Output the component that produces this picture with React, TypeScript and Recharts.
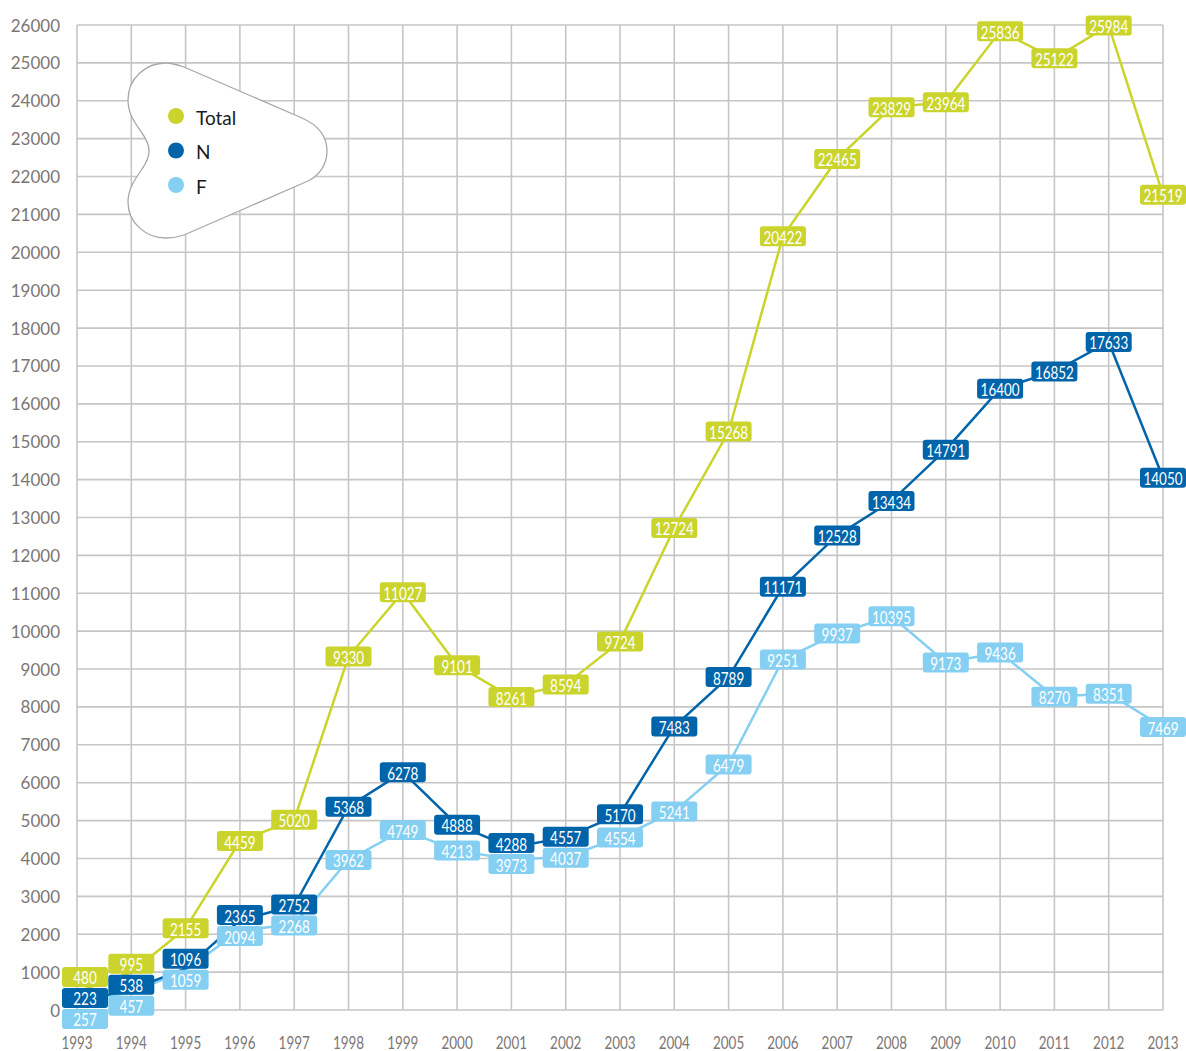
import { LineChart, Line, XAxis, YAxis, CartesianGrid, LabelList, Legend } from "recharts";

const YEARS = [1993, 1994, 1995, 1996, 1997, 1998, 1999, 2000, 2001, 2002, 2003, 2004, 2005, 2006, 2007, 2008, 2009, 2010, 2011, 2012, 2013];
const TOTAL = [480, 995, 2155, 4459, 5020, 9330, 11027, 9101, 8261, 8594, 9724, 12724, 15268, 20422, 22465, 23829, 23964, 25836, 25122, 25984, 21519];
const N_VALUES = [223, 538, 1096, 2365, 2752, 5368, 6278, 4888, 4288, 4557, 5170, 7483, 8789, 11171, 12528, 13434, 14791, 16400, 16852, 17633, 14050];
const F_VALUES = [257, 457, 1059, 2094, 2268, 3962, 4749, 4213, 3973, 4037, 4554, 5241, 6479, 9251, 9937, 10395, 9173, 9436, 8270, 8351, 7469];
const Y_TICKS = [0, 1000, 2000, 3000, 4000, 5000, 6000, 7000, 8000, 9000, 10000, 11000, 12000, 13000, 14000, 15000, 16000, 17000, 18000, 19000, 20000, 21000, 22000, 23000, 24000, 25000, 26000];
// the vertical grid has its own 21 columns, not one per year
const GRID_COLUMNS = [0, 1, 2, 3, 4, 5, 6, 7, 8, 9, 10, 11, 12, 13, 14, 15, 16, 17, 18, 19, 20, 21];

const SERIES = [
  { key: "total", name: "Total", color: "#cad42c", values: TOTAL },
  { key: "n", name: "N", color: "#0064aa", values: N_VALUES },
  { key: "f", name: "F", color: "#85cff2", values: F_VALUES },
];

const data = YEARS.map((year, i) => ({ year, total: TOTAL[i], n: N_VALUES[i], f: F_VALUES[i] }));

const W = 1186;
const H = 1051;
const MARGIN = { top: 25, right: 23, bottom: 0, left: 0 };
const X_AXIS_H = 41;
const Y_AXIS_W = 77;
const Y_MAX = 26000;
const PLOT_H = H - MARGIN.top - X_AXIS_H;
const PX_PER_UNIT = PLOT_H / Y_MAX;

const BOX_W = 46;
const BOX_H = 20;
const GAP = 21;
const FONT = "Lato, 'Open Sans', sans-serif";
const AXIS_COLOR = "#7b7674";

// push the three labels of one year apart so the boxes do not overlap
function labelShift(seriesIndex: number, index: number) {
  const raw = SERIES.map((s) => -s.values[index] * PX_PER_UNIT);
  const ys = raw.slice();
  for (let k = 0; k < 60; k++) {
    for (let a = 0; a < ys.length - 1; a++) {
      const d = ys[a + 1] - ys[a];
      if (d < GAP) {
        const s = (GAP - d) / 2;
        ys[a] -= s;
        ys[a + 1] += s;
      }
    }
  }
  return ys[seriesIndex] - raw[seriesIndex];
}

function makeLabel(seriesIndex: number) {
  const color = SERIES[seriesIndex].color;
  return (props: any) => {
    const { x, y, value, index } = props;
    if (x == null || y == null) return null;
    const cx = Math.max(x, 62 + BOX_W / 2);
    const cy = y + labelShift(seriesIndex, index);
    const txt = String(value);
    return (
      <g>
        <rect x={cx - BOX_W / 2} y={cy - BOX_H / 2} width={BOX_W} height={BOX_H} rx={3} fill={color} />
        <text
          x={cx}
          y={cy + 1}
          textAnchor="middle"
          dominantBaseline="central"
          fill="#fff"
          fontSize={17.5}
          fontFamily={FONT}
          textLength={txt.length * 7.8}
          lengthAdjust="spacingAndGlyphs"
        >
          {txt}
        </text>
      </g>
    );
  };
}

function XTick(props: any) {
  const { x, y, payload } = props;
  const txt = String(payload.value);
  return (
    <text
      x={x}
      y={y + 32}
      textAnchor="middle"
      dominantBaseline="central"
      fill={AXIS_COLOR}
      fontSize={17}
      fontFamily={FONT}
      textLength={txt.length * 7.8}
      lengthAdjust="spacingAndGlyphs"
    >
      {txt}
    </text>
  );
}

function YTick(props: any) {
  const { x, y, payload } = props;
  return (
    <text x={x} y={y} textAnchor="end" dominantBaseline="central" fill={AXIS_COLOR} fontSize={17} fontFamily={FONT}>
      {payload.value}
    </text>
  );
}

const LEGEND_SHAPE =
  "M1,38 C1,16 19,1 39,1 C45,1 51,3 57,5 L175,56 C193,64 200,76 200,89 C200,102 193,113 181,119 L57,173 C51,175 45,176 39,176 C19,176 1,161 1,140 C1,126 9,116 15,107 C20,100 22,95 22,89 C22,83 20,78 15,71 C9,62 1,53 1,38 Z";

function LegendShape() {
  return (
    <svg width={202} height={178} style={{ display: "block" }}>
      <path d={LEGEND_SHAPE} fill="#fff" stroke="#a8a8a8" strokeWidth={1.3} />
      {SERIES.map((s, i) => (
        <g key={s.key}>
          <circle cx={49} cy={54 + i * 34.5} r={8} fill={s.color} />
          <text x={69} y={55 + i * 34.5} dominantBaseline="central" fontSize={19} fontFamily={FONT} fill="#1b1b1b">
            {s.name}
          </text>
        </g>
      ))}
    </svg>
  );
}

export default function App() {
  // F underneath, Total on top
  const drawOrder = [2, 1, 0];
  return (
    <div style={{ width: W, height: H, background: "#fff" }}>
      <style>{"body{margin:0}"}</style>
      <LineChart width={W} height={H} data={data} margin={MARGIN}>
        <XAxis xAxisId="grid" type="number" domain={[0, 21]} ticks={GRID_COLUMNS} hide />
        <CartesianGrid xAxisId="grid" stroke="#c6c6c6" strokeWidth={1.6} />
        <XAxis
          dataKey="year"
          type="number"
          domain={[1993, 2013]}
          ticks={YEARS}
          interval={0}
          height={X_AXIS_H}
          axisLine={false}
          tickLine={false}
          tickSize={0}
          tickMargin={0}
          tick={<XTick />}
        />
        <YAxis
          domain={[0, Y_MAX]}
          ticks={Y_TICKS}
          interval={0}
          width={Y_AXIS_W}
          axisLine={false}
          tickLine={false}
          tickSize={0}
          tickMargin={17}
          tick={<YTick />}
        />
        <Legend
          layout="horizontal"
          verticalAlign="middle"
          align="center"
          wrapperStyle={{ left: 127, top: 62, width: 202, height: 178 }}
          content={() => <LegendShape />}
        />
        {drawOrder.map((si) => {
          const s = SERIES[si];
          return (
            <Line
              key={s.key}
              dataKey={s.key}
              name={s.name}
              stroke={s.color}
              strokeWidth={2.5}
              dot={false}
              activeDot={false}
              isAnimationActive={false}
            >
              <LabelList dataKey={s.key} content={makeLabel(si)} />
            </Line>
          );
        })}
      </LineChart>
    </div>
  );
}
